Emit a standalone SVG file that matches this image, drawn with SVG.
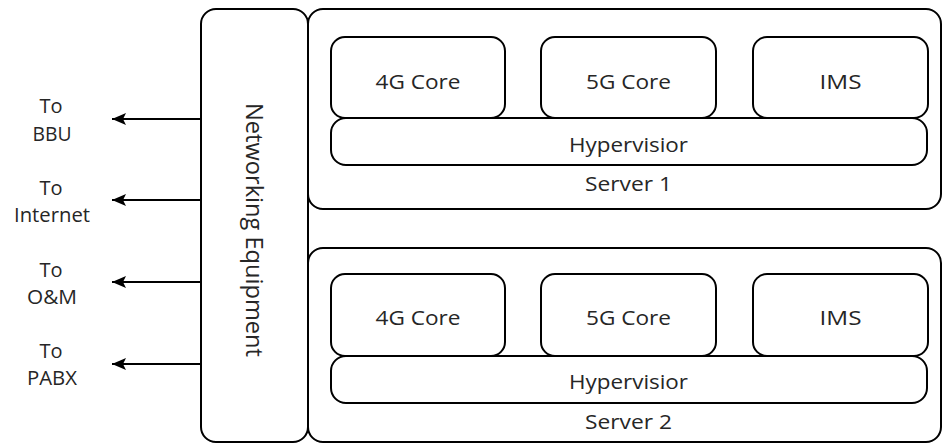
<svg xmlns="http://www.w3.org/2000/svg" width="942" height="443" viewBox="0 0 942 443">
<style>
.box{fill:#fff;stroke:#000;stroke-width:2}
.t{font-family:"Open Sans","Liberation Sans",sans-serif;font-size:20px;fill:#262626;text-anchor:middle}
.nt{font-family:"Open Sans","Liberation Sans",sans-serif;font-size:24px;fill:#262626;text-anchor:middle}
.c{stroke:#000;stroke-width:2.2;fill:none;marker-end:url(#ah)}
</style>
<defs>
<marker id="ah" markerUnits="userSpaceOnUse" markerWidth="15" markerHeight="12" refX="14" refY="6" orient="auto" overflow="visible">
<path d="M0,0 L14,6 L0,12 L3,6 z" fill="#000"/>
</marker>
</defs>
<rect width="942" height="443" fill="#fff"/>
<g id="networking">
<rect class="box" x="201" y="9" width="107" height="433" rx="15" ry="15"/>
<text class="nt" transform="translate(246,230) rotate(90)" textLength="254" lengthAdjust="spacingAndGlyphs">Networking Equipment</text>
</g>
<g id="server1">
<rect class="box" x="308" y="9" width="633" height="200" rx="15" ry="15"/>
<text class="t" x="628.5" y="191" textLength="87" lengthAdjust="spacingAndGlyphs">Server 1</text>
</g>
<g id="hyper1">
<rect class="box" x="331" y="118" width="596" height="47" rx="15" ry="15"/>
<text class="t" x="628.5" y="152" textLength="119" lengthAdjust="spacingAndGlyphs">Hypervisior</text>
</g>
<g id="core4g1">
<rect class="box" x="331" y="37" width="174" height="81" rx="14" ry="14"/>
<text class="t" x="418" y="89" textLength="85" lengthAdjust="spacingAndGlyphs">4G Core</text>
</g>
<g id="core5g1">
<rect class="box" x="541" y="37" width="175" height="81" rx="14" ry="14"/>
<text class="t" x="628.5" y="89" textLength="85" lengthAdjust="spacingAndGlyphs">5G Core</text>
</g>
<g id="ims1">
<rect class="box" x="753" y="37" width="175" height="81" rx="14" ry="14"/>
<text class="t" x="840.5" y="89" textLength="42" lengthAdjust="spacingAndGlyphs">IMS</text>
</g>
<g id="server2">
<rect class="box" x="308" y="248" width="633" height="194" rx="15" ry="15"/>
<text class="t" x="628.5" y="429" textLength="87" lengthAdjust="spacingAndGlyphs">Server 2</text>
</g>
<g id="hyper2">
<rect class="box" x="331" y="356" width="596" height="47" rx="15" ry="15"/>
<text class="t" x="628.5" y="389" textLength="119" lengthAdjust="spacingAndGlyphs">Hypervisior</text>
</g>
<g id="core4g2">
<rect class="box" x="331" y="274" width="174" height="82" rx="14" ry="14"/>
<text class="t" x="418" y="325" textLength="85" lengthAdjust="spacingAndGlyphs">4G Core</text>
</g>
<g id="core5g2">
<rect class="box" x="541" y="274" width="175" height="82" rx="14" ry="14"/>
<text class="t" x="628.5" y="325" textLength="85" lengthAdjust="spacingAndGlyphs">5G Core</text>
</g>
<g id="ims2">
<rect class="box" x="753" y="274" width="175" height="82" rx="14" ry="14"/>
<text class="t" x="840.5" y="325" textLength="42" lengthAdjust="spacingAndGlyphs">IMS</text>
</g>
<g id="connectors">
<line class="c" x1="201" y1="119" x2="112" y2="119"/>
<line class="c" x1="201" y1="200" x2="112" y2="200"/>
<line class="c" x1="201" y1="282" x2="112" y2="282"/>
<line class="c" x1="201" y1="364" x2="112" y2="364"/>
</g>
<g id="labels">
<text class="t" x="51" y="113">To</text>
<text class="t" x="52" y="141" textLength="39" lengthAdjust="spacingAndGlyphs">BBU</text>
<text class="t" x="51" y="195">To</text>
<text class="t" x="52" y="222" textLength="76" lengthAdjust="spacingAndGlyphs">Internet</text>
<text class="t" x="51" y="277">To</text>
<text class="t" x="52" y="304" textLength="50" lengthAdjust="spacingAndGlyphs">O&amp;M</text>
<text class="t" x="51" y="358">To</text>
<text class="t" x="52" y="385" textLength="50" lengthAdjust="spacingAndGlyphs">PABX</text>
</g>
</svg>
